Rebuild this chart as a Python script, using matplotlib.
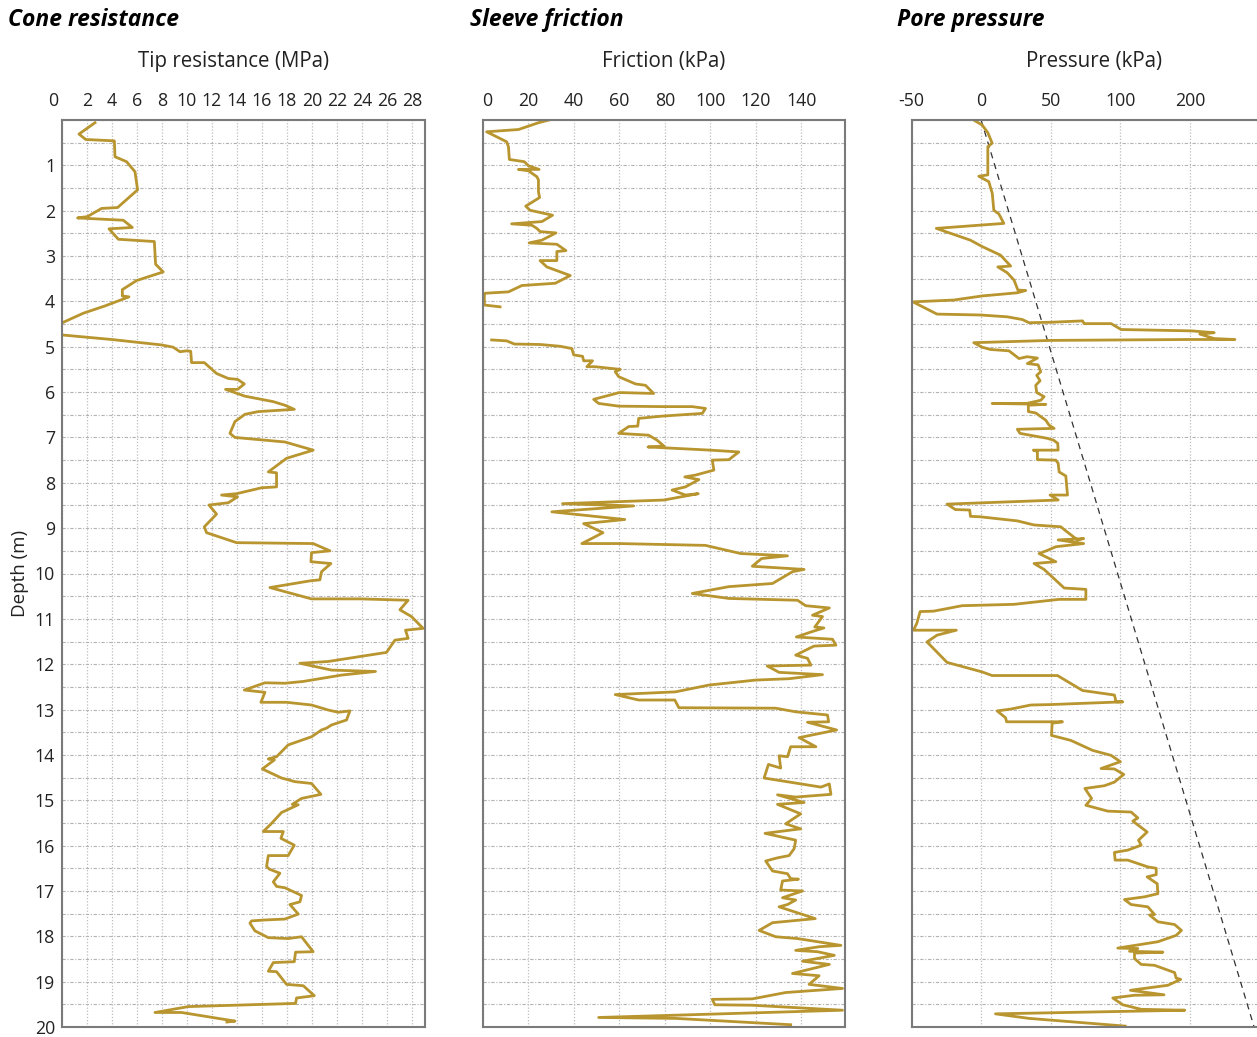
import matplotlib
matplotlib.use("Agg")
import matplotlib.pyplot as plt
import matplotlib.transforms as mtransforms
import numpy as np

plt.rcParams['font.family'] = ['Open Sans', 'DejaVu Sans']

# cone resistance (depth m, qc MPa)
cone_depth = [0.06, 0.31, 0.43, 0.46, 0.81, 0.92, 1.14, 1.54, 1.93, 1.95, 2.13, 2.16, 2.21, 2.37, 2.40,
              2.63, 2.68, 3.18, 3.35, 3.54, 3.74, 3.88, 3.90, 4.10, 4.26, 4.47, 4.60, 4.74, 4.84, 4.96,
              5.01, 5.11, 5.09, 5.10, 5.35, 5.35, 5.59, 5.70, 5.72, 5.82, 5.94, 5.94, 6.09, 6.21, 6.29,
              6.38, 6.43, 6.49, 6.65, 6.91, 7.00, 7.10, 7.28, 7.46, 7.76, 7.78, 8.09, 8.11, 8.24, 8.27,
              8.31, 8.44, 8.49, 8.69, 8.97, 9.10, 9.32, 9.34, 9.50, 9.54, 9.74, 9.78, 9.96, 10.14, 10.16,
              10.31, 10.56, 10.56, 10.59, 10.80, 10.95, 11.21, 11.25, 11.43, 11.47, 11.74, 11.94, 11.98,
              12.13, 12.16, 12.24, 12.38, 12.42, 12.41, 12.57, 12.62, 12.84, 12.84, 12.90, 13.01, 13.06,
              13.03, 13.23, 13.34, 13.41, 13.45, 13.60, 13.78, 14.04, 14.09, 14.11, 14.31, 14.51, 14.59,
              14.63, 14.87, 14.96, 15.09, 15.10, 15.27, 15.51, 15.69, 15.69, 15.84, 15.99, 16.22, 16.22,
              16.46, 16.52, 16.61, 16.80, 16.90, 16.93, 17.10, 17.24, 17.30, 17.51, 17.62, 17.64, 17.66,
              17.71, 17.88, 18.03, 18.05, 18.01, 18.34, 18.35, 18.56, 18.58, 18.77, 18.78, 19.06, 19.09,
              19.31, 19.36, 19.48, 19.55, 19.68, 19.68, 19.87, 19.89]
cone_qc = [2.64, 1.36, 1.9, 4.19, 4.24, 5.17, 5.84, 6.05, 4.45, 3.17, 2.03, 1.25, 4.9, 5.63, 3.76,
           4.51, 7.39, 7.49, 8.1, 5.97, 4.83, 4.83, 5.36, 3.44, 1.71, 0.03, -2.0, 0.0, 3.97, 7.97,
           8.9, 9.44, 9.97, 10.3, 10.37, 11.39, 12.37, 13.31, 14.05, 14.59, 14.05, 13.09, 14.64, 16.9, 17.84,
           18.59, 15.71, 14.64, 13.84, 13.44, 13.84, 17.84, 20.1, 17.97, 16.51, 17.17, 17.17, 15.97, 13.97, 12.77,
           14.05, 13.31, 11.76, 12.37, 11.39, 11.57, 13.97, 20.1, 21.44, 19.97, 19.92, 21.52, 20.77, 20.64, 19.9,
           16.64, 19.97, 23.9, 27.7, 27.04, 27.97, 28.9, 27.49, 27.7, 26.64, 25.97, 21.3, 19.04,
           21.57, 25.09, 22.37, 19.31, 17.84, 16.24, 14.59, 16.24, 15.92, 17.97, 19.97, 21.3, 22.1,
           23.04, 22.77, 21.57, 21.17, 20.77, 19.97, 18.1, 17.17, 16.51, 17.0, 16.03, 17.57, 18.64,
           19.97, 20.72, 19.17, 18.43, 18.9, 17.57, 16.77, 16.11, 17.71, 17.52, 18.59, 18.1, 16.51,
           16.37, 16.6, 17.44, 16.91, 17.17, 17.84, 19.17, 19.04, 18.24, 18.91, 17.84, 16.24, 15.17,
           15.04, 15.44, 16.51, 18.1, 19.17, 20.1, 18.69, 18.59, 16.91, 16.51, 17.17, 17.97, 19.31,
           20.19, 18.77, 18.69, 10.11, 7.44, 9.57, 13.84, 13.2]

# sleeve friction (depth m, fs kPa), None = no reading
fric_depth = [0.00, 0.06, 0.21, 0.26, 0.48, 0.59, 0.87, 0.92, 1.01, 1.09, 1.09, 1.12, 1.25, 1.32, 1.58,
              1.71, 1.90, 1.99, 2.10, 2.24, 2.29, 2.32, 2.39, 2.46, 2.49, 2.65, 2.71, 2.74, 2.88, 2.90,
              3.10, 3.10, 3.24, 3.43, 3.60, 3.65, 3.79, 3.82, 3.86, 4.08, 4.12, 4.5,
              4.85, 4.87, 4.94, 4.95, 4.99, 5.04, 5.18, 5.21, 5.31, 5.31, 5.44, 5.44, 5.50, 5.55, 5.66,
              5.82, 5.85, 6.03, 6.01, 6.16, 6.25, 6.31, 6.32, 6.32, 6.36, 6.47, 6.53, 6.58, 6.75, 6.76,
              6.91, 6.95, 7.06, 7.19, 7.21, 7.28, 7.32, 7.49, 7.50, 7.72, 7.83, 7.87, 7.93, 8.09, 8.16,
              8.27, 8.24, 8.38, 8.46, 8.51, 8.64, 8.81, 8.90, 9.10, 9.34, 9.34, 9.38, 9.56, 9.61, 9.67,
              9.84, 9.91, 9.96, 10.22, 10.29, 10.44, 10.55, 10.59, 10.71, 10.76, 10.92, 10.95, 11.18,
              11.20, 11.29, 11.40, 11.45, 11.58, 11.60, 11.80, 11.87, 12.02, 12.04, 12.18, 12.23, 12.32,
              12.35, 12.46, 12.61, 12.67, 12.79, 12.79, 12.96, 12.97, 13.05, 13.12, 13.27, 13.28, 13.45,
              13.62, 13.82, 13.82, 14.04, 14.02, 14.29, 14.21, 14.51, 14.71, 14.64, 14.87, 14.93, 14.88,
              15.05, 15.09, 15.30, 15.52, 15.63, 15.73, 15.88, 16.07, 16.22, 16.27, 16.34, 16.56, 16.62,
              16.73, 16.74, 16.78, 16.98, 17.00, 17.15, 17.20, 17.30, 17.35, 17.61, 17.64, 17.70, 17.87,
              18.01, 18.05, 18.20, 18.23, 18.31, 18.34, 18.42, 18.55, 18.62, 18.82, 18.87, 19.06, 19.15,
              19.24, 19.38, 19.39, 19.51, 19.52, 19.63, 19.79, 19.81, 19.95]
fric_fs = [29.1, 24.4, 15.6, 1.6, 10.4, 11.2, 11.6, 18.2, 20.0, 24.7, 15.6, 20.0, 23.7, 24.4, 24.4,
           24.9, 18.8, 20.7, 30.6, 25.9, 12.6, 21.5, 23.7, 25.1, 32.1, 25.9, 20.3, 32.5, 36.5, 32.5,
           32.5, 25.1, 28.1, 38.4, 31.8, 17.1, 11.2, 0.9, 0.6, 0.6, 7.5, None,
           3.8, 10.4, 13.8, 25.1, 34.0, 39.1, 39.9, 43.8, 44.3, 48.2, 45.7, 49.4, 60.4, 58.2, 59.7,
           67.1, 71.5, 75.1, 60.0, 48.7, 50.9, 59.7, 78.8, 92.1, 97.9, 96.5, 78.8, 68.5, 68.1, 64.1,
           59.7, 72.9, 76.6, 79.6, 72.6, 100.1, 112.6, 108.2, 100.9, 101.6, 93.5, 88.8, 95.0, 89.1, 83.2,
           89.1, 94.7, 79.6, 35.0, 66.3, 30.3, 62.4, 44.3, 52.8, 43.5, 60.0, 97.9, 113.4, 134.0, 122.6,
           118.5, 141.3, 136.2, 127.4, 108.2, 92.1, 108.2, 138.4, 142.0, 152.4, 145.0, 149.4, 146.0,
           150.0, 144.3, 137.9, 153.8, 155.3, 145.7, 137.6, 142.8, 144.3, 125.1, 130.3, 149.4, 134.7,
           120.0, 99.4, 84.7, 58.2, 68.5, 84.4, 86.2, 128.8, 137.6, 151.6, 152.1, 142.8, 155.6,
           139.1, 146.5, 135.4, 134.0, 130.3, 131.0, 125.6, 123.7, 148.7, 152.4, 153.1, 137.6, 129.6,
           141.3, 129.6, 139.8, 133.2, 139.8, 124.1, 137.6, 136.9, 134.7, 129.6, 124.4, 127.4, 134.0,
           135.4, 138.8, 131.8, 131.0, 140.6, 131.8, 137.6, 134.0, 130.3, 146.2, 139.8, 127.4, 121.5,
           128.8, 138.4, 157.5, 147.9, 137.6, 147.2, 154.6, 140.6, 152.4, 136.2, 147.9, 143.5, 158.2,
           133.2, 118.5, 100.9, 102.0, 118.5, 158.2, 50.9, 84.7, 135.4]

# pore pressure (depth m, u2 kPa)
pore_depth = [0.01, 0.11, 0.28, 0.51, 0.59, 1.21, 1.24, 1.36, 1.62, 1.99, 2.07, 2.28, 2.39, 2.65, 2.79,
              2.98, 3.22, 3.24, 3.37, 3.53, 3.75, 3.76, 3.81, 3.88, 3.97, 4.01, 4.28, 4.30, 4.34, 4.40,
              4.47, 4.46, 4.43, 4.49, 4.49, 4.62, 4.65, 4.69, 4.72, 4.82, 4.84, 4.84, 4.86, 4.91, 5.01,
              5.06, 5.09, 5.26, 5.22, 5.25, 5.37, 5.40, 5.55, 5.63, 5.75, 5.85, 6.01, 6.10, 6.18, 6.25,
              6.25, 6.27, 6.29, 6.43, 6.46, 6.62, 6.73, 6.80, 6.82, 6.91, 7.02, 7.06, 7.13, 7.28, 7.28,
              7.31, 7.49, 7.50, 7.57, 7.76, 7.85, 8.27, 8.27, 8.38, 8.47, 8.59, 8.60, 8.74, 8.75, 8.84,
              8.93, 8.97, 9.06, 9.26, 9.23, 9.26, 9.34, 9.41, 9.49, 9.56, 9.74, 9.78, 9.91, 10.15, 10.32,
              10.35, 10.57, 10.57, 10.68, 10.71, 10.83, 10.84, 11.10, 11.25, 11.25, 11.36, 11.51, 11.62,
              11.96, 12.17, 12.25, 12.25, 12.58, 12.68, 12.83, 12.83, 12.89, 12.90, 12.99, 13.03, 13.18,
              13.27, 13.27, 13.30, 13.57, 13.68, 13.90, 14.01, 14.15, 14.30, 14.31, 14.43, 14.60, 14.68,
              14.74, 14.96, 15.11, 15.24, 15.26, 15.39, 15.46, 15.70, 15.88, 15.99, 16.10, 16.15, 16.32,
              16.32, 16.47, 16.50, 16.64, 16.69, 16.84, 17.06, 17.13, 17.19, 17.30, 17.35, 17.52, 17.53,
              17.68, 17.74, 17.87, 17.98, 18.12, 18.26, 18.27, 18.33, 18.35, 18.37, 18.49, 18.62, 18.64,
              18.80, 18.92, 18.95, 19.08, 19.14, 19.19, 19.29, 19.30, 19.36, 19.51, 19.61, 19.63, 19.71,
              19.81, 19.98]
pore_u = [-4.8, 0.7, 4.8, 7.9, 4.8, 4.8, -1.7, 5.5, 8.0, 9.1, 12.7, 16.3, -32.2, -7.7, 0.7,
          13.9, 21.2, 12.0, 18.8, 23.6, 26.4, 32.0, 26.0, 0.7, -19.7, -49.0, -31.7, -0.5, 18.8, 29.6,
          34.4, 50.0, 72.8, 74.0, 93.3, 100.5, 151.0, 167.3, 157.0, 167.3, 182.2, 150.0, 50.0, -5.3, 0.7,
          6.7, 20.0, 27.2, 33.0, 40.4, 33.2, 40.9, 42.8, 39.9, 42.3, 39.2, 39.9, 45.2, 42.8, 32.7,
          7.9, 46.4, 33.9, 33.9, 39.2, 46.4, 48.8, 52.4, 26.0, 27.9, 47.6, 52.0, 55.0, 55.3, 37.5,
          40.4, 40.4, 53.6, 55.3, 56.0, 60.8, 62.0, 49.5, 55.3, -24.5, -18.5, -8.2, -7.7, -0.5, 26.0,
          38.0, 57.2, 60.8, 69.2, 73.6, 55.3, 73.6, 53.6, 47.6, 41.6, 53.6, 38.0, 45.2, 53.6, 59.6,
          75.2, 75.2, 56.0, 23.6, -13.7, -34.1, -43.8, -46.2, -48.6, -17.8, -31.7, -38.9, -35.3,
          -24.5, 0.7, 7.9, 54.8, 72.8, 95.7, 96.9, 101.7, 50.0, 35.6, 21.2, 11.5, 17.5,
          18.3, 58.4, 51.0, 50.5, 64.4, 80.0, 93.3, 100.0, 86.1, 95.7, 102.4, 95.7, 88.5,
          74.5, 79.3, 75.2, 90.9, 107.7, 112.5, 108.9, 119.2, 113.0, 114.9, 105.3, 95.7, 96.2,
          105.3, 119.7, 125.7, 125.7, 119.2, 126.4, 126.9, 117.3, 102.9, 107.7, 119.7, 124.5, 120.9,
          126.9, 138.9, 143.8, 140.0, 126.9, 98.1, 112.5, 106.5, 130.5, 110.1, 110.1, 114.9, 124.5,
          138.9, 140.0, 143.3, 134.1, 119.7, 107.2, 131.3, 110.1, 94.5, 101.7, 114.9, 146.2, 10.3,
          34.4, 103.4]

# hydrostatic line
hydro_depth = [0, 20]
hydro_u = [0, 196]

cone_ticks = list(range(0, 30, 2))
fric_ticks = [0, 20, 40, 60, 80, 100, 120, 140]
pore_ticks = [-50, 0, 50, 100, 150]
pore_ticklabels = ['-50', '0', '50', '100', '200']

gold = '#B8952F'
W, H = 1257, 1037
fig = plt.figure(figsize=(W / 100, H / 100), dpi=100)


def make_ax(left, right, xlim, ticks, labels):
    ax = fig.add_axes([left / W, 1 - 1027 / H, (right - left) / W, 907 / H])
    ax.set_xlim(*xlim)
    ax.set_ylim(20, 0)
    ax.xaxis.tick_top()
    ax.set_xticks(ticks)
    ax.set_xticklabels(labels)
    ax.set_yticks(np.arange(0, 20.01, 0.5))
    ax.tick_params(axis='both', length=0, labelsize=12.8, colors='#222222')
    ax.tick_params(axis='x', pad=7)
    ax.tick_params(axis='y', pad=5)
    ax.grid(axis='x', color='#bdbdbd', linestyle=(0, (1, 1.5)), linewidth=0.9)
    ax.grid(axis='y', color='#b3b3b3', linestyle=(0, (3, 1.5, 1, 1.5)), linewidth=0.8)
    for s in ax.spines.values():
        s.set_color('#7a7a7a')
        s.set_linewidth(1.5)
    return ax


ax1 = make_ax(62, 425, (0, 29.05), cone_ticks, [str(t) for t in cone_ticks])
ax2 = make_ax(483, 845, (0, 159.3), fric_ticks, [str(t) for t in fric_ticks])
ax3 = make_ax(911.5, 1259, (-50, 199.5), pore_ticks, pore_ticklabels)

# depth labels only on the first panel
ax1.set_yticklabels(['' if (d == 0 or d % 1) else str(int(d)) for d in np.arange(0, 20.01, 0.5)])
ax1.set_ylabel('Depth (m)', fontsize=13.5, color='#222222', labelpad=4)
for ax in (ax2, ax3):
    ax.set_yticklabels([])

# nudge the zero labels like the original
ax1.get_xticklabels()[0].set_transform(ax1.get_xticklabels()[0].get_transform() +
                                       mtransforms.ScaledTranslation(-0.09, 0, fig.dpi_scale_trans))
ax2.get_xticklabels()[0].set_transform(ax2.get_xticklabels()[0].get_transform() +
                                       mtransforms.ScaledTranslation(0.04, 0, fig.dpi_scale_trans))

fric = np.array([np.nan if v is None else v for v in fric_fs])

ax1.plot(cone_qc, cone_depth, color=gold, linewidth=2.0)
ax2.plot(fric, fric_depth, color=gold, linewidth=2.0)
ax3.plot(hydro_u, hydro_depth, color='#333333', linewidth=0.9, linestyle=(0, (5, 4)))
ax3.plot(pore_u, pore_depth, color=gold, linewidth=2.0)

# panel titles
for x, t in [(8, 'Cone resistance'), (470, 'Sleeve friction'), (897, 'Pore pressure')]:
    fig.text(x / W, 1 - 20 / H, t, fontsize=16.5, fontweight='bold', style='italic',
             va='center', ha='left')
fig.text(234 / W, 1 - 61 / H, 'Tip resistance (MPa)', fontsize=14.8, color='#222222', ha='center', va='center')
fig.text(664 / W, 1 - 61 / H, 'Friction (kPa)', fontsize=14.8, color='#222222', ha='center', va='center')
fig.text(1094 / W, 1 - 61 / H, 'Pressure (kPa)', fontsize=14.8, color='#222222', ha='center', va='center')

fig.savefig('out.png', dpi=100)
